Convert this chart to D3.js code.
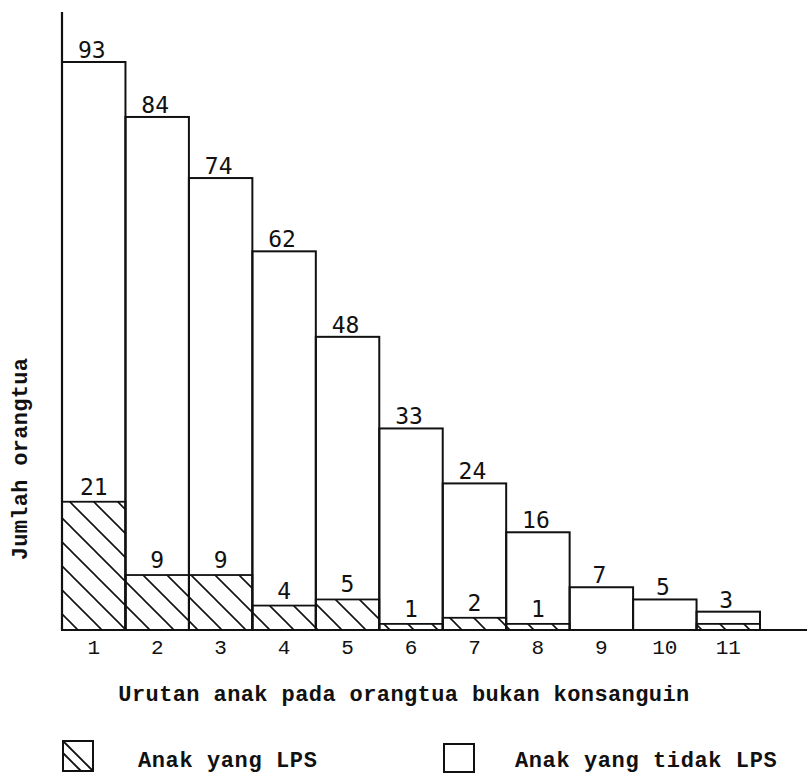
<!DOCTYPE html>
<html>
<head>
<meta charset="utf-8">
<script src="https://cdn.jsdelivr.net/npm/d3@7"></script>
<style>
  html, body { margin: 0; padding: 0; background: #ffffff; }
  svg { display: block; }
</style>
</head>
<body>
<svg id="chart" width="807" height="773"></svg>
<script>
// ---- data ----
const categories = ["1", "2", "3", "4", "5", "6", "7", "8", "9", "10", "11"];
const totalValues = [93, 84, 74, 62, 48, 33, 24, 16, 7, 5, 3];
const lpsValues = [21, 9, 9, 4, 5, 1, 2, 1, 0, 0, 1];
const lpsLabels = ["21", "9", "9", "4", "5", "1", "2", "1", "", "", ""];
const xTitle = "Urutan anak pada orangtua bukan konsanguin";
const yTitle = "Jumlah orangtua";
const legendLabels = ["Anak yang LPS", "Anak yang tidak LPS"];

// ---- layout ----
const svg = d3.select("#chart");
const baseY = 630, topY = 62, leftX = 62, rightX = 760;
const ink = "#111";

const x = d3.scaleBand().domain(categories).range([leftX, rightX]).padding(0);
const y = d3.scaleLinear().domain([0, 93]).range([baseY, topY]);

const defs = svg.append("defs");
const pat = defs.append("pattern")
  .attr("id", "hatch").attr("patternUnits", "userSpaceOnUse")
  .attr("width", 24).attr("height", 24);
pat.append("path")
  .attr("d", "M-6,-6 L30,30 M-6,18 L6,30 M18,-6 L30,6")
  .attr("stroke", ink).attr("stroke-width", 1.6).attr("fill", "none");

const rows = categories.map((c, i) => ({ c, total: totalValues[i], lps: lpsValues[i], lab: lpsLabels[i] }));

// total bars
svg.append("g").selectAll("rect").data(rows).join("rect")
  .attr("x", d => x(d.c)).attr("width", x.bandwidth())
  .attr("y", d => y(d.total)).attr("height", d => y(0) - y(d.total))
  .attr("fill", "none").attr("stroke", ink).attr("stroke-width", 2);

// LPS hatched bars
svg.append("g").selectAll("rect").data(rows.filter(d => d.lps > 0)).join("rect")
  .attr("x", d => x(d.c)).attr("width", x.bandwidth())
  .attr("y", d => y(d.lps)).attr("height", d => y(0) - y(d.lps))
  .attr("fill", "url(#hatch)").attr("stroke", ink).attr("stroke-width", 1.8);

// value labels
svg.append("g").selectAll("text").data(rows).join("text")
  .attr("x", d => x(d.c) + x.bandwidth() / 2 - 2)
  .attr("y", d => y(d.total) - 4)
  .attr("text-anchor", "middle")
  .attr("font-family", "DejaVu Sans Mono, monospace")
  .attr("font-size", 23).attr("fill", ink)
  .text(d => d.total);

svg.append("g").selectAll("text").data(rows.filter(d => d.lab !== "")).join("text")
  .attr("x", d => x(d.c) + x.bandwidth() / 2)
  .attr("y", d => y(d.lps) - 7)
  .attr("text-anchor", "middle")
  .attr("font-family", "DejaVu Sans Mono, monospace")
  .attr("font-size", 23).attr("fill", ink)
  .text(d => d.lab);

// axes
svg.append("line").attr("x1", leftX).attr("x2", leftX).attr("y1", 12).attr("y2", baseY)
  .attr("stroke", ink).attr("stroke-width", 2.2);
svg.append("line").attr("x1", leftX).attr("x2", 807).attr("y1", baseY).attr("y2", baseY)
  .attr("stroke", ink).attr("stroke-width", 2.2);

const xAxis = svg.append("g").attr("transform", `translate(0,${baseY})`)
  .call(d3.axisBottom(x).tickSize(0).tickPadding(9));
xAxis.select(".domain").remove();
xAxis.selectAll("text")
  .attr("font-family", "Liberation Mono, Courier New, monospace")
  .attr("font-size", 21).attr("fill", ink)
  .attr("dy", "0.71em");

// axis titles
const monoBold = "Liberation Mono, Courier New, monospace";
svg.append("text").attr("x", 404).attr("y", 701)
  .attr("text-anchor", "middle").attr("font-family", monoBold)
  .attr("font-weight", "bold").attr("font-size", 22).attr("letter-spacing", 0.4)
  .attr("fill", ink).text(xTitle);

svg.append("text").attr("transform", "translate(27,459) rotate(-90)")
  .attr("text-anchor", "middle").attr("font-family", monoBold)
  .attr("font-weight", "bold").attr("font-size", 22).attr("letter-spacing", 0.3)
  .attr("fill", ink).text(yTitle);

// legend
const lg = svg.append("g");
const b1 = { x: 63, y: 741, s: 30 };
lg.append("rect").attr("x", b1.x).attr("y", b1.y).attr("width", b1.s).attr("height", b1.s)
  .attr("fill", "none").attr("stroke", ink).attr("stroke-width", 2);
lg.append("line").attr("x1", b1.x).attr("y1", b1.y).attr("x2", b1.x + b1.s).attr("y2", b1.y + b1.s)
  .attr("stroke", ink).attr("stroke-width", 1.8);
lg.append("line").attr("x1", b1.x).attr("y1", b1.y + 12).attr("x2", b1.x + b1.s - 12).attr("y2", b1.y + b1.s)
  .attr("stroke", ink).attr("stroke-width", 1.8);
lg.append("text").attr("x", 138).attr("y", 767)
  .attr("font-family", monoBold).attr("font-weight", "bold").attr("font-size", 22)
  .attr("letter-spacing", 0.6).attr("fill", ink).text(legendLabels[0]);

lg.append("rect").attr("x", 444).attr("y", 744).attr("width", 30).attr("height", 28)
  .attr("fill", "none").attr("stroke", ink).attr("stroke-width", 2);
lg.append("text").attr("x", 515).attr("y", 767)
  .attr("font-family", monoBold).attr("font-weight", "bold").attr("font-size", 22)
  .attr("letter-spacing", 0.6).attr("fill", ink).text(legendLabels[1]);
</script>
</body>
</html>
